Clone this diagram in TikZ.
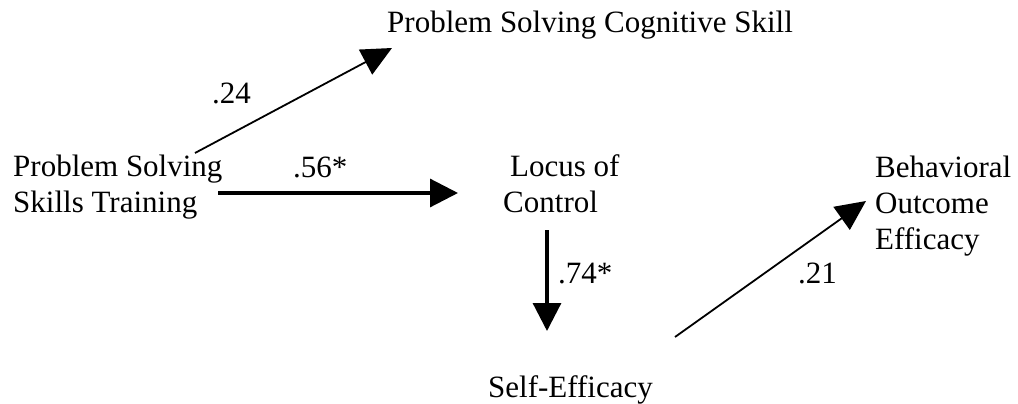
\documentclass[tikz,border=0pt]{standalone}
\usepackage{fontspec}
\setmainfont{Liberation Serif}
\usetikzlibrary{arrows.meta}
\begin{document}
\begin{tikzpicture}[x=1pt,y=-1pt,
  lbl/.style={font=\fontsize{31}{35.5}\selectfont, inner sep=0pt, anchor=base west, align=left},
  boldconn/.style={-{Triangle[length=28pt,width=28pt]}, line width=3.2pt},
  thinconn/.style={-{Triangle[length=30pt,width=28pt]}, line width=1.8pt}]
\useasboundingbox (0,0) rectangle (1018,404);
% nodes (base anchor = baseline of last line)
\node[lbl] (psct) at (387,33) {Problem Solving Cognitive Skill};
\node[lbl] (psst) at (13,212) {Problem Solving\\Skills Training};
\node[lbl] (loc) at (503,212) {\hspace{7pt}Locus of\\Control};
\node[lbl] (se) at (488,397) {Self-Efficacy};
\node[lbl, font=\fontsize{31}{36}\selectfont] (boe) at (875,249) {Behavioral\\Outcome\\Efficacy};
% connector end points
\coordinate (a1) at (195,153);
\coordinate (a2) at (392,48);
\coordinate (b1) at (218,193);
\coordinate (b2) at (458,193);
\coordinate (c1) at (547,230);
\coordinate (c2) at (547,331);
\coordinate (d1) at (675,337);
\coordinate (d2) at (866,201);
% connectors
\draw[thinconn] (a1) -- (a2);
\draw[boldconn] (b1) -- (b2);
\draw[boldconn] (c1) -- (c2);
\draw[thinconn] (d1) -- (d2);
% labels
\node[lbl] (l24) at (212,103) {.24};
\node[lbl] (l56) at (293,177) {.56*};
\node[lbl] (l74) at (558,283) {.74*};
\node[lbl] (l21) at (798,283) {.21};
\end{tikzpicture}
\end{document}
